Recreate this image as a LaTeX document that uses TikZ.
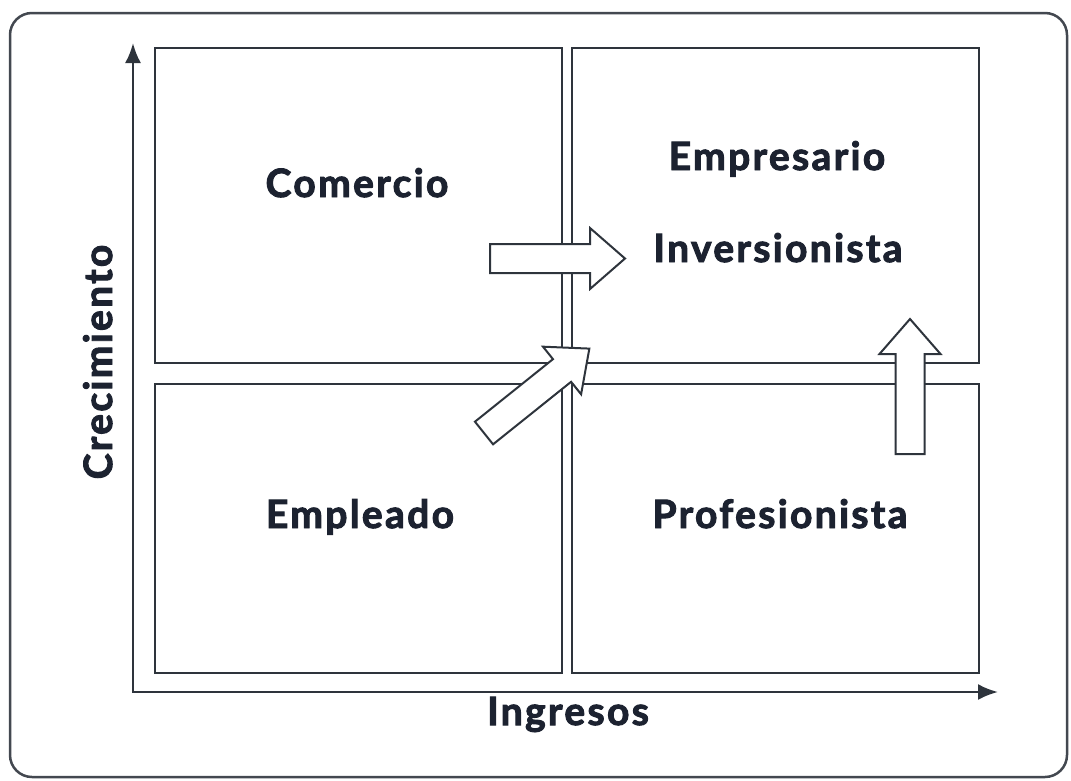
\documentclass[tikz,border=0pt]{standalone}
\usepackage{fontspec}
\setsansfont{Lato}[BoldFeatures={FakeBold=2.5, LetterSpace=6}]
\usetikzlibrary{arrows.meta, positioning}
\definecolor{linea}{HTML}{2E343C}
\definecolor{texto}{HTML}{1C2230}

\tikzset{
  flecha/.pic = {\draw[linea, line width=2pt, fill=white, line join=miter]
     (0,-14.5) -- (100,-14.5) -- (100,-30.5) -- (135,0)
     -- (100,30.5) -- (100,14.5) -- (0,14.5) -- cycle;}
}

\begin{document}
\begin{tikzpicture}[x=1pt, y=-1pt,
            node distance = 21pt and 10pt,
            every node/.style = {font=\sffamily\bfseries\fontsize{39}{42}\selectfont, text=texto},
            cuadro/.style = {draw=linea, line width=2.5pt, minimum width=407pt,
                             inner sep=0pt, outer sep=0pt},
            eje/.style = {draw=linea, line width=2.5pt,
                          {Latex[length=20pt, width=16pt]}-{Latex[length=20pt, width=16pt]}}
                                 ]
            \useasboundingbox (0,0) rectangle (1071,780);
            \draw[linea!90, line width=2.5pt, rounded corners=22pt] (10,13) rectangle (1067,777);
            % cuadrantes
            \node[cuadro, minimum height=315pt] (COM) at (358.5,205.5) {};
            \node[cuadro, minimum height=315pt, right = of COM] (EMPR) {};
            \node[cuadro, minimum height=289pt, below = of COM] (EMPL) {};
            \node[cuadro, minimum height=289pt, below = of EMPR] (PROF) {};
            % ejes
            \coordinate (O)  at (133,692);
            \coordinate (YT) at (133,43);
            \coordinate (XT) at (998,692);
            \draw[eje] (YT) -- (O) -- (XT);
            %
            \node[anchor=base] (COMt)  at (357,197) {Comercio};
            \node[anchor=base] (EMPRt) at (777,170) {Empresario};
            \node[anchor=base] (INVt)  at (778,262) {Inversionista};
            \node[anchor=base] (EMPLt) at (360,528) {Empleado};
            \node[anchor=base] (PROFt) at (780,528) {Profesionista};
            \node[anchor=base] (ING)   at (568,725) {Ingresos};
            \node[anchor=base, rotate=90] (CREC) at (112,362) {Crecimiento};
            % flechas
            \pic at (490,258.5) {flecha};
            \pic[rotate=38.7] at (484,433) {flecha};
            \pic[rotate=90] at (910,454) {flecha};
    \end{tikzpicture}
\end{document}
